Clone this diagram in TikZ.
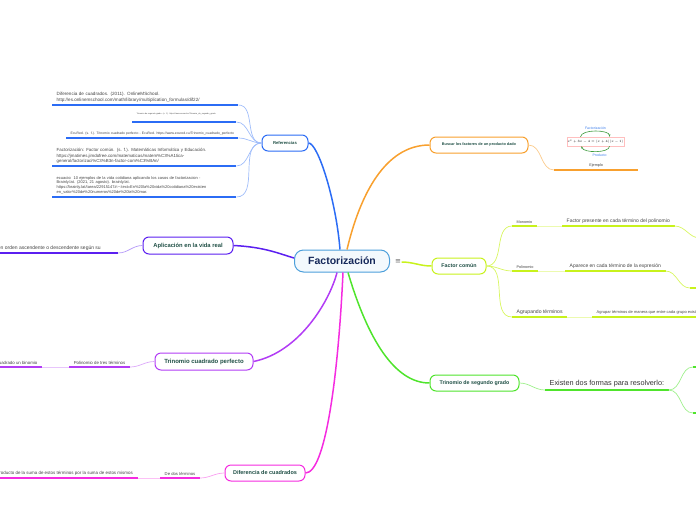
\RequirePackage{fix-cm}
\documentclass[tikz,border=0pt]{standalone}
\usepackage{fontspec}
\setmainfont{Liberation Sans}
\newfontfamily\dejavu{DejaVu Sans}
\usetikzlibrary{arrows.meta, positioning}

\definecolor{refblue}{HTML}{2B6CF5}
\definecolor{orangeb}{HTML}{F8A02E}
\definecolor{limeb}{HTML}{C8F21C}
\definecolor{greenb}{HTML}{4FE42C}
\definecolor{violetb}{HTML}{5B1FF0}
\definecolor{purpleb}{HTML}{B23CF5}
\definecolor{magentab}{HTML}{F52BE0}
\definecolor{rootblue}{HTML}{4C9FDB}
\definecolor{rootfill}{HTML}{F3F9FD}
\definecolor{rootink}{HTML}{15285A}
\definecolor{nodeink}{HTML}{1F4F45}
\definecolor{leafink}{HTML}{444444}
\definecolor{formblue}{HTML}{3B7DEB}
\definecolor{arrgreen}{HTML}{3C9A3C}

\tikzset{
  topic/.style={draw=#1, line width=1pt, rounded corners=6pt, fill=white, text=nodeink,
    font=\bfseries\fontsize{5.3}{6.3}\selectfont, inner sep=0pt, minimum height=16pt},
  leaf/.style={anchor=south west, inner xsep=4.5pt, inner ysep=2.5pt, align=left, text=leafink},
  branch/.style={line width=1.5pt},
  twig/.style={line width=0.7pt},
  uline/.style={line width=1.8pt}
}

\begin{document}
\begin{tikzpicture}[x=1pt, y=-1pt]
\useasboundingbox (0,0) rectangle (696,520);
\clip (0,0) rectangle (696,520);
% Central topic
\node[draw=rootblue, line width=1pt, rounded corners=9pt, fill=rootfill, text=rootink,
      font=\bfseries\fontsize{10.5}{12}\selectfont, minimum width=95pt, minimum height=22pt]
      (root) at (342,261) {Factorización};
\node[text=black!60, font=\dejavu\fontsize{7}{8}\selectfont, inner sep=0.5pt] (menu) at (398,262) {≡};
% Main topics
\node[topic=refblue, minimum width=46pt, font=\bfseries\fontsize{4.2}{5}\selectfont] (ref) at (285,143) {Referencias};
\node[topic=orangeb, minimum width=98pt, font=\bfseries\fontsize{3.8}{5}\selectfont] (busc) at (479,145) {Buscar los factores de un producto dado};
\node[topic=limeb, minimum width=54pt] (fcom) at (459,266) {Factor común};
\node[topic=greenb, minimum width=89pt] (trin) at (474.5,383) {Trinomio de segundo grado};
\node[topic=violetb, minimum width=90pt, minimum height=17pt, font=\bfseries\fontsize{5.8}{6.8}\selectfont] (apli) at (188,245.5) {Aplicación en la vida real};
\node[topic=purpleb, minimum width=98pt, minimum height=17pt, font=\bfseries\fontsize{6}{7}\selectfont] (tcp) at (204,361.5) {Trinomio cuadrado perfecto};
\node[topic=magentab, minimum width=80pt, font=\bfseries\fontsize{5.5}{6.5}\selectfont] (difc) at (265,473) {Diferencia de cuadrados};
% Branches from the centre
\draw[branch, refblue] ([xshift=-2pt]root.north) .. controls (336,200) and (318,143) .. (ref.east);
\draw[branch, orangeb] ([xshift=5pt]root.north) .. controls (360,195) and (385,145) .. (busc.west);
\draw[branch, limeb] (menu.east) to[out=0, in=180] (fcom.west);
\draw[branch, greenb] ([xshift=6pt]root.south) .. controls (368,340) and (395,383) .. (trin.west);
\draw[branch, purpleb] ([xshift=-5pt]root.south) .. controls (330,300) and (300,352) .. (tcp.east);
\draw[branch, magentab] ([xshift=1pt]root.south) .. controls (338,380) and (325,473) .. (difc.east);
\draw[branch, violetb] (apli.east) .. controls (265,247) and (280,254) .. ([yshift=3pt]root.west);

% Referencias
\node[leaf, text width=177pt, font=\fontsize{4.6}{5.6}\selectfont] (ref1) at (52,105)
     {Diferencia de cuadrados. (2011). OnlineMSchool.\\http://es.onlinemschool.com/math/library/multiplication\_formulas/dif22/};
\node[leaf, text width=95pt, inner ysep=6.5pt, font=\fontsize{2}{2.5}\selectfont] (ref2) at (132,122)
     {Trinomio de segundo grado. (s. f.). https://www.ecured.cu/Trinomio\_de\_segundo\_grado};
\node[leaf, text width=163pt, font=\fontsize{3.4}{4}\selectfont] (ref3) at (66,138)
     {\mbox{EcuRed. (s. f.). Trinomio cuadrado perfecto - EcuRed. https://www.ecured.cu/Trinomio\_cuadrado\_perfecto}};
\node[leaf, text width=175pt, font=\fontsize{4.4}{5.2}\selectfont] (ref4) at (52,166)
     {Factorización: Factor común. (s. f.). Matemáticas Informática y Educación.\\https://jmatimes.jimdofree.com/matematicas/matem\%C3\%A1tica-\\general/factorizaci\%C3\%B3n-factor-com\%C3\%BAn/};
\node[leaf, text width=175pt, font=\fontsize{4}{4.8}\selectfont] (ref5) at (52,197)
     {ecuacio: 10 ejemplos de la vida cotidiana aplicando los casos de factorizacion -\\Brainly.lat. (2021, 21 agosto). brainly.lat.\\https://brainly.lat/tarea/22915147\#:\textasciitilde:text=En\%20la\%20vida\%20cotidiana\%20existen\\en\_valor\%20de\%20numeros\%20de\%20la\%20mar.};
\foreach \r in {ref1,ref2,ref3,ref4,ref5} {
  \draw[twig, refblue!45] (ref.west) to[out=180, in=0] (\r.south east);
  \draw[uline, refblue] (\r.south west) -- (\r.south east);
}

% Buscar los factores
\node[leaf, minimum width=84pt, align=center, font=\fontsize{3.8}{4.5}\selectfont] (ejem) at (554,170) {Ejemplo};
\draw[twig, orangeb!55] (busc.east) to[out=0, in=180] (ejem.south west);
\draw[uline, orangeb] (ejem.south west) -- (ejem.south east);
\node[draw=red!25, fill=white, inner sep=1pt, minimum width=57pt, minimum height=9pt,
      font=\fontsize{3.2}{4}\selectfont] (eqn) at (595.5,141.5) {$x^2+3x-4=(x+4)(x-1)$};
\node[above=7pt of eqn, inner sep=0.5pt, text=formblue, font=\fontsize{3.5}{4}\selectfont] (lblf) {Factorización};
\node[below=7pt of eqn, xshift=4pt, inner sep=0.5pt, text=formblue, font=\fontsize{3.5}{4}\selectfont] (lblp) {Producto};
\draw[-{Stealth[length=2.5pt]}, arrgreen, line width=0.6pt]
      ([xshift=-15pt]eqn.north) .. controls +(1,-8) and +(0,-7) .. ([xshift=14pt]eqn.north);
\draw[-{Stealth[length=2.5pt]}, arrgreen, line width=0.6pt]
      ([xshift=14pt]eqn.south) .. controls +(0,7) and +(2,7) .. ([xshift=-14pt]eqn.south);

% Factor comun
\node[leaf, font=\fontsize{3.8}{4.5}\selectfont] (mono) at (512,226) {Monomio};
\node[leaf, font=\fontsize{5}{6}\selectfont] (monot) at (562,226) {Factor presente en cada término del polinomio};
\node[leaf, font=\fontsize{3.8}{4.5}\selectfont] (poli) at (512,271) {Polinomio};
\node[leaf, font=\fontsize{5}{6}\selectfont] (polit) at (565,271) {Aparece en cada término de la expresión};
\node[leaf, font=\fontsize{5.1}{6}\selectfont] (agru) at (512,317) {Agrupando términos};
\node[leaf, font=\fontsize{4}{4.8}\selectfont] (agrut) at (592,317) {Agrupar términos de manera que entre cada grupo exista un factor común};
\coordinate (monoe) at (700,238);
\coordinate (polie) at (690,288);
\foreach \a/\b in {mono/monot, poli/polit, agru/agrut} {
  \draw[twig, limeb!70] (fcom.east) to[out=0, in=180] (\a.south west);
  \draw[line width=1pt, limeb!35] (\a.south east) -- (\b.south west);
  \draw[uline, limeb] (\a.south west) -- (\a.south east);
  \draw[uline, limeb] (\b.south west) -- (\b.south east);
}
\draw[twig, limeb!70] (monot.south east) to[out=0, in=180] (monoe);
\draw[twig, limeb!70] (polit.south east) to[out=0, in=180] (polie);
\draw[uline, limeb] (polie) -- ++(10,0);

% Trinomio de segundo grado
\node[leaf, text=black!80, font=\fontsize{7.3}{8.5}\selectfont] (exis) at (545,390) {Existen dos formas para resolverlo:};
\draw[twig, greenb!55] (trin.east) to[out=0, in=180] (exis.south west);
\draw[uline, greenb] (exis.south west) -- (exis.south east);
\coordinate (exi1) at (693,367);
\coordinate (exi2) at (693,413);
\foreach \c in {exi1,exi2} {
  \draw[twig, greenb!55] (exis.south east) to[out=0, in=180] (\c);
  \draw[uline, greenb] (\c) -- ++(10,0);
}

% Aplicacion en la vida real
\node[leaf, anchor=south east, inner xsep=17pt, font=\fontsize{5}{6}\selectfont] (aplit) at (118,253)
     {en orden ascendente o descendente según su};
\draw[twig, violetb!45] (apli.west) to[out=180, in=0] (aplit.south east);
\draw[uline, violetb] (aplit.south west) -- (aplit.south east);

% Trinomio cuadrado perfecto
\node[leaf, anchor=south east, font=\fontsize{4.35}{5}\selectfont] (tcp1) at (130,367) {Polinomio de tres términos};
\node[leaf, anchor=south east, font=\fontsize{4.35}{5}\selectfont] (tcp2) at (42,367) {Resultado de elevar al cuadrado un binomio};
\draw[twig, purpleb!45] (tcp.west) to[out=180, in=0] (tcp1.south east);
\draw[line width=1pt, purpleb!30] (tcp1.south west) -- (tcp2.south east);
\foreach \n in {tcp1,tcp2}
  \draw[uline, purpleb] (\n.south west) -- (\n.south east);

% Diferencia de cuadrados
\node[leaf, anchor=south east, font=\fontsize{4.2}{5}\selectfont] (dif1) at (200,478) {De dos términos};
\node[leaf, anchor=south east, inner xsep=5pt, font=\fontsize{4.45}{5}\selectfont] (dif2) at (138,478)
     {Producto de la suma de estos términos por la suma de estos mismos};
\draw[twig, magentab!45] (difc.west) to[out=180, in=0] (dif1.south east);
\draw[line width=1pt, magentab!30] (dif1.south west) -- (dif2.south east);
\foreach \n in {dif1,dif2}
  \draw[uline, magentab] (\n.south west) -- (\n.south east);
\end{tikzpicture}
\end{document}
